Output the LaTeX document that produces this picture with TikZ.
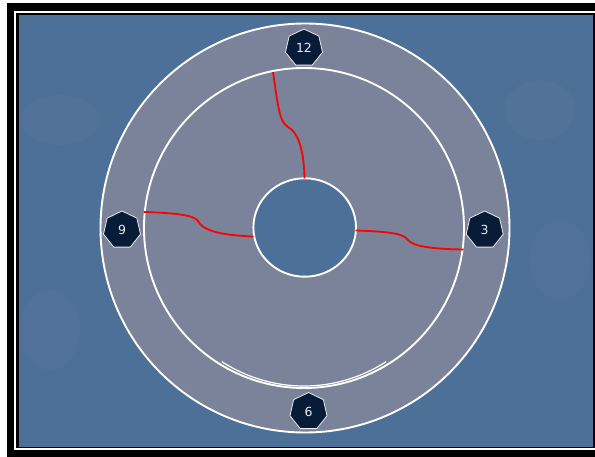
\documentclass[tikz,border=0pt]{standalone}
\usepackage{fontspec}
\setmainfont{DejaVu Sans}
\usetikzlibrary{shapes.geometric}
\definecolor{bgblue}{HTML}{4D7098}
\definecolor{ringgray}{HTML}{7A839A}
\definecolor{navy}{HTML}{081C37}
\definecolor{numwhite}{HTML}{E8ECF2}
\tikzset{
  ringline/.style={draw=white, line width=1.9pt},
  crack/.style={draw=red, line width=1.8pt},
  heptbox/.style={regular polygon, regular polygon sides=7, minimum size=38pt,
    inner sep=0pt, fill=navy, draw=white!85!gray, line width=0.8pt,
    text=numwhite, font=\fontsize{12.5}{14}\selectfont},
}
\begin{document}
\begin{tikzpicture}[x=1pt,y=-1pt]
\useasboundingbox (0,0) rectangle (595,457);
\fill[white] (0,0) rectangle (595,457);
% frame
\fill[black] (7,3) rectangle (605,465);
\draw[white, line width=2pt] (15,12) rectangle (598,448.7);
\fill[bgblue] (19,15) rectangle (592.7,446.7);
% subtle texture patches
\fill[white, opacity=0.025] (60,120) ellipse (40 and 25);
\fill[white, opacity=0.025] (540,110) ellipse (35 and 30);
\fill[white, opacity=0.02] (560,260) ellipse (30 and 40);
\fill[white, opacity=0.02] (50,330) ellipse (30 and 40);
% ring body with hole
\fill[ringgray, even odd rule] (305,228) circle (204.5) (304.7,227.5) ellipse (51.3 and 49.2);
% circles
\node[circle, minimum size=409pt, inner sep=0pt, ringline] (outer) at (305,228) {};
\node[circle, minimum size=320pt, inner sep=0pt, ringline] (inner) at (304,228) {};
\node[ellipse, minimum width=102.6pt, minimum height=98.4pt, inner sep=0pt, ringline] (hole) at (304.7,227.5) {};
% second arc at the bottom of the inner circle
\draw[white, line width=1.2pt, shift={(304,226)}] (58:155 and 160) arc[start angle=58, end angle=122, x radius=155, y radius=160];
% crack endpoints
\coordinate (t1) at (273,72);
\coordinate (t2) at (304.5,178.5);
\coordinate (l1) at (144,212);
\coordinate (l2) at (253.5,236.5);
\coordinate (r1) at (355.5,230.5);
\coordinate (r2) at (463.5,249.5);
% cracks
\draw[crack] (t1) .. controls (278,105) and (279,122) .. (288,127) .. controls (298,132) and (304,150) .. (t2);
\draw[crack] (l1) .. controls (175,213) and (194,215) .. (198,221) .. controls (202,229) and (215,235) .. (l2);
\draw[crack] (r1) .. controls (385,231.5) and (403,233) .. (407.5,239.5) .. controls (412,246) and (430,249) .. (r2);
% hour markers
\node[heptbox] (h12) at (304,48) {12};
\node[heptbox] (h3) at (484.7,230) {3};
\node[heptbox] (h6) at (308.5,411.5) {6};
\node[heptbox] (h9) at (122,230) {9};
\end{tikzpicture}
\end{document}
